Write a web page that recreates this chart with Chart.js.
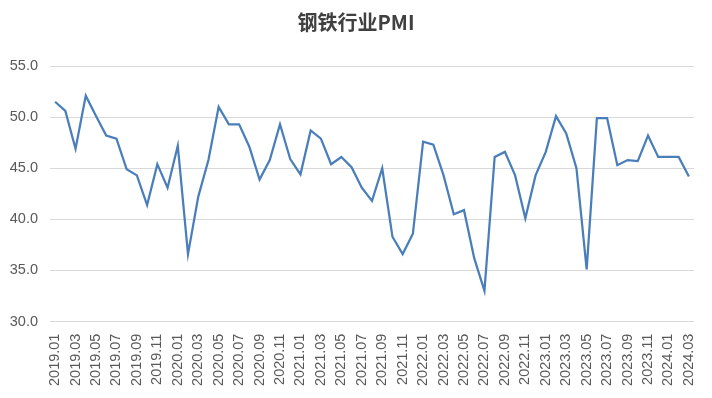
<!DOCTYPE html>
<html>
<head>
<meta charset="utf-8">
<script src="https://cdn.jsdelivr.net/npm/chart.js@4"></script>
<style>
  html, body { margin: 0; padding: 0; background: #fff; }
  #wrap { width: 712px; height: 398px; }
</style>
</head>
<body>
<div id="wrap"><canvas id="pmiChart"></canvas></div>
<script>
const months = [
  '2019.01','2019.02','2019.03','2019.04','2019.05','2019.06','2019.07','2019.08','2019.09','2019.10','2019.11','2019.12',
  '2020.01','2020.02','2020.03','2020.04','2020.05','2020.06','2020.07','2020.08','2020.09','2020.10','2020.11','2020.12',
  '2021.01','2021.02','2021.03','2021.04','2021.05','2021.06','2021.07','2021.08','2021.09','2021.10','2021.11','2021.12',
  '2022.01','2022.02','2022.03','2022.04','2022.05','2022.06','2022.07','2022.08','2022.09','2022.10','2022.11','2022.12',
  '2023.01','2023.02','2023.03','2023.04','2023.05','2023.06','2023.07','2023.08','2023.09','2023.10','2023.11','2023.12',
  '2024.01','2024.02','2024.03'
];
const steelPmi = [
  51.5, 50.6, 46.9, 52.1, 50.1, 48.2, 47.9, 44.9, 44.3, 41.4, 45.4, 43.1,
  47.2, 36.6, 42.2, 45.8, 51.0, 49.3, 49.3, 47.1, 43.9, 45.8, 49.3, 45.9,
  44.4, 48.7, 47.9, 45.4, 46.1, 45.1, 43.1, 41.8, 45.0, 38.3, 36.6, 38.6,
  47.6, 47.3, 44.3, 40.5, 40.9, 36.2, 33.0, 46.1, 46.6, 44.3, 40.1, 44.3,
  46.6, 50.1, 48.4, 45.0, 35.1, 49.9, 49.9, 45.3, 45.8, 45.7, 48.2, 46.1,
  46.1, 46.1, 44.2
];
const yMin = 30;
const yMax = 55;
const yStep = 5;

const textColor = '#595959';
const tickFont = { family: '"Liberation Sans", Arial, sans-serif', size: 14.5 };

// nudge the title so it sits centred on the whole picture, as in the original
const titleShift = {
  id: 'titleShift',
  afterLayout(chart) {
    if (chart.titleBlock) {
      chart.titleBlock.left += 9;
      chart.titleBlock.right += 9;
    }
  }
};

new Chart(document.getElementById('pmiChart'), {
  type: 'line',
  data: {
    labels: months,
    datasets: [{
      label: '钢铁行业PMI',
      data: steelPmi,
      borderColor: '#4a7ebb',
      borderWidth: 2.25,
      pointRadius: 0,
      tension: 0,
      fill: false
    }]
  },
  options: {
    responsive: true,
    maintainAspectRatio: false,
    animation: false,
    layout: { padding: { top: 10, right: 18, bottom: 0, left: 0 } },
    plugins: {
      legend: { display: false },
      tooltip: { enabled: false },
      title: {
        display: true,
        text: '钢铁行业PMI',
        color: '#404040',
        font: { family: '"Noto Sans CJK SC", "Liberation Sans", sans-serif', size: 20, weight: 'bold' },
        padding: { top: 0, bottom: 32 }
      }
    },
    scales: {
      x: {
        offset: true,
        grid: { display: false, drawTicks: false },
        border: { display: false },
        afterFit: function (scale) { scale.paddingLeft = 0; scale.paddingRight = 0; },
        ticks: {
          autoSkip: false,
          minRotation: 90,
          maxRotation: 90,
          padding: 12,
          color: textColor,
          font: tickFont,
          callback: function (value, index) {
            return index % 2 === 0 ? this.getLabelForValue(value) : '';
          }
        }
      },
      y: {
        min: yMin,
        max: yMax,
        grid: { color: '#d9d9d9', lineWidth: 1, drawTicks: false },
        border: { display: false },
        afterFit: function (scale) { scale.width = 50; },
        ticks: {
          stepSize: yStep,
          padding: 12,
          color: textColor,
          font: tickFont,
          callback: function (value) { return value.toFixed(1); }
        }
      }
    }
  },
  plugins: [titleShift]
});
</script>
</body>
</html>
